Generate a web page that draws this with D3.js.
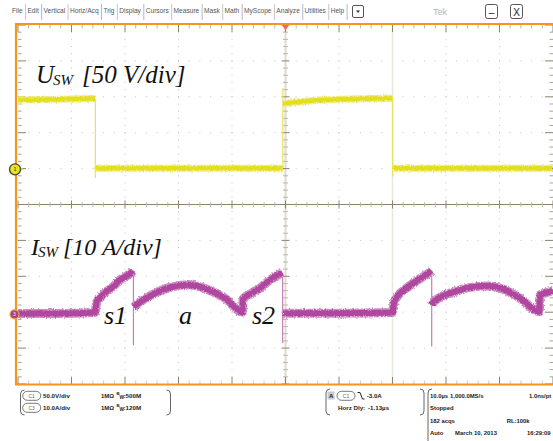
<!DOCTYPE html>
<html><head><meta charset="utf-8">
<script src="https://cdn.jsdelivr.net/npm/d3@7"></script>
<style>body{margin:0;background:#fff}svg{display:block}</style>
</head><body><svg id="c" width="553" height="441"></svg>
<script>
// ---------------- data ----------------
const menuItems = ["File","Edit","Vertical","Horiz/Acq","Trig","Display","Cursors","Measure","Mask","Math","MyScope","Analyze","Utilities","Help"];
const timeDomain = [0, 100];          // µs, 10 µs/div
const divCount = 10;
// U_SW (channel 1, 50 V/div) – segments of the thick trace
const uSeg  = [0, 0, 0, 0, 1, 1, 2, 2, 2, 2, 2, 2, 3, 3];
const uTime = [0, 5, 10, 14.42, 14.5, 49.45, 49.55, 52.7, 56.4, 60.2, 65.8, 70.0, 70.08, 100];
const uVolt = [96.5, 97.3, 98.0, 98.6, 1.5, 1.5, 91.4, 94.2, 96.5, 97.5, 98.6, 99.0, 1.5, 1.5];
// U_SW switching edges (thin)
const uEdgeTime = [14.46, 49.5, 70.04];
const uEdgeHigh = [98.6, 113, 99.0];
const uEdgeLow  = [-12, 1.5, -10];
// I_SW (channel 3, 10 A/div)
const iSeg  = [0,0,0,0,0,0,0,0,0,0, 1,1,1,1,1,1,1,1,1,1,1,1,1, 2,2,2,2,2,2,2,2,2, 3,3,3,3,3,3,3,3,3,3,3];
const iTime = [0, 7, 14.39, 14.71, 15.33, 16.58, 17.2, 19.07, 21.0, 21.5,
               21.65, 21.87, 24.67, 28.41, 31.78, 35.33, 38.69, 41.96, 42.06, 43.5, 45.23, 47.1, 49.4,
               49.55, 60, 69.99, 70.31, 70.93, 72.8, 74.8, 77.0, 77.28,
               77.4, 77.7, 81.4, 84.5, 87.6, 90.7, 93.8, 97.44, 97.55, 97.9, 100];
const iAmp  = [0.2, 0.2, 0.5, 3.4, 4.6, 6.4, 7.0, 9.6, 11.4, 12.1,
               2.0, 2.3, 5.1, 7.5, 8.2, 7.0, 4.5, 0.6, 4.3, 5.8, 7.3, 9.6, 11.6,
               0.3, 0.3, 0.5, 3.4, 5.0, 7.5, 9.6, 11.8, 12.2,
               2.5, 3.5, 6.2, 7.5, 7.9, 7.0, 4.5, 0.7, 5.4, 5.6, 6.5];
// I_SW turn-off spikes (thin)
const iSpikeTime = [21.58, 49.47, 77.33];
const iSpikeHigh = [12.2, 11.6, 12.2];
const iSpikeLow  = [-8.6, -8.0, -9.0];
// labels
const chInfo = [["C1","50.0V/div","1MΩ","500M"],["C3","10.0A/div","1MΩ","120M"]];
const trigInfo = ["-3.0A","Horz Dly:","-1.13µs"];
const acqInfo = [["10.0µs","1,000.0MS/s","1.0ns/pt"],["Stopped"],["182 acqs","RL:100k"],["Auto","March 10, 2013","16:29:09"]];

// ---------------- drawing ----------------
const svg = d3.select("#c");
const X0 = 18, X1 = 553, Y0 = 25, Y1 = 384;
const x = d3.scaleLinear().domain(timeDomain).range([X0, X1]);
const gy = d3.scaleLinear().domain([0, divCount]).range([Y0, Y1]);
const divH = (Y1 - Y0) / divCount;
const yU = d3.scaleLinear().domain([0, 50]).range([169.3, 169.3 - divH]);
const yI = d3.scaleLinear().domain([0, 10]).range([314.3, 314.3 - divH]);
const gridCol = "#8c846a", dotCol = "#c4c4c4";

const defs = svg.append("defs");
const f = defs.append("filter").attr("id","noise").attr("filterUnits","userSpaceOnUse")
  .attr("x",0).attr("y",0).attr("width",553).attr("height",441);
f.append("feTurbulence").attr("type","fractalNoise").attr("baseFrequency","1.1 0.5").attr("numOctaves",1).attr("seed",4).attr("result","t");
f.append("feDisplacementMap").attr("in","SourceGraphic").attr("in2","t").attr("scale",3.5)
  .attr("xChannelSelector","R").attr("yChannelSelector","G");

// menu bar
const menu = svg.append("g").attr("font-family","Liberation Sans, Arial, sans-serif").attr("font-size",6.6).attr("fill","#555");
let mx = 12;
const widths = [];
const tmp = menu.append("text");
menuItems.forEach(m => { tmp.text(m); widths.push(tmp.node().getComputedTextLength()); });
tmp.remove();
const totalW = d3.sum(widths);
const pad = (349 - 12 - totalW) / menuItems.length;
menuItems.forEach((m, i) => {
  menu.append("text").attr("x", mx).attr("y", 13).text(m);
  mx += widths[i] + pad;
  menu.append("line").attr("x1", mx - pad/2 + 0.5).attr("x2", mx - pad/2 + 0.5).attr("y1", 4).attr("y2", 20)
    .attr("stroke", i % 2 ? "#9aa6c8" : "#b8b8b8").attr("stroke-width", 0.8);
});
svg.append("rect").attr("x",352.5).attr("y",5.5).attr("width",11).attr("height",12).attr("rx",1.5).attr("fill","#fff").attr("stroke","#555");
svg.append("path").attr("d","M356,10.5 L360,10.5 L358,13 Z").attr("fill","#333");
svg.append("text").attr("x",433).attr("y",14.5).attr("font-family","Liberation Sans, Arial").attr("font-size",9).attr("fill","#b4b4b4").text("Tek");
[[485,"–"],[510,"X"]].forEach(([bx,t]) => {
  svg.append("rect").attr("x",bx+0.5).attr("y",4.5).attr("width",12).attr("height",14).attr("rx",2).attr("fill","#fff").attr("stroke","#555");
  svg.append("text").attr("x",bx+6.5).attr("y",15.5).attr("text-anchor","middle").attr("font-family","Liberation Sans, Arial").attr("font-size",10).attr("fill","#222").text(t);
});

// graticule
const grid = svg.append("g");
const minorX = d3.range(0, divCount * 5 + 1).map(j => X0 + j * (X1 - X0) / 50);
const minorY = d3.range(0, divCount * 5 + 1).map(j => gy(j / 5));
d3.range(1, divCount).forEach(k => {
  const xv = x(timeDomain[0] + k * 10);
  if (k !== 5) grid.selectAll(null).data(minorY).join("rect").attr("x", xv - 0.5).attr("y", d => d - 0.5).attr("width",1).attr("height",1).attr("fill",dotCol);
  const yv = gy(k);
  if (k !== 5) grid.selectAll(null).data(minorX).join("rect").attr("x", d => d - 0.5).attr("y", yv - 0.5).attr("width",1).attr("height",1).attr("fill",dotCol);
});
grid.append("line").attr("x1", x(50)).attr("x2", x(50)).attr("y1", Y0).attr("y2", Y1).attr("stroke","#dedbd2").attr("stroke-width",2);
grid.append("line").attr("x1", x(70)).attr("x2", x(70)).attr("y1", Y0).attr("y2", Y1).attr("stroke","#e9e7e0").attr("stroke-width",1.5);
grid.append("line").attr("x1", X0).attr("x2", X1).attr("y1", gy(5)).attr("y2", gy(5)).attr("stroke", gridCol).attr("stroke-width",1.2);
grid.selectAll(null).data(minorX).join("line").attr("x1", d => d).attr("x2", d => d)
  .attr("y1", (d,i) => gy(5) - (i % 5 ? 2.5 : 4)).attr("y2", (d,i) => gy(5) + (i % 5 ? 2.5 : 4)).attr("stroke", (d,i)=> i%5 ? "#bdb8a8" : gridCol);
grid.selectAll(null).data(minorY).join("line").attr("y1", d => d).attr("y2", d => d)
  .attr("x1", (d,i) => x(50) - (i % 5 ? 2.5 : 4)).attr("x2", (d,i) => x(50) + (i % 5 ? 2.5 : 4)).attr("stroke", (d,i)=> i%5 ? "#bdb8a8" : gridCol);
grid.selectAll(null).data(minorY).join("line").attr("y1", d => d).attr("y2", d => d)
  .attr("x1", X0).attr("x2", (d,i) => X0 + (i % 5 ? 3.5 : 8)).attr("stroke", (d,i)=> i%5 ? "#a9a392" : gridCol);
grid.selectAll(null).data(minorY).join("line").attr("y1", d => d).attr("y2", d => d)
  .attr("x1", X1).attr("x2", (d,i) => X1 - (i % 5 ? 3.5 : 8)).attr("stroke", (d,i)=> i%5 ? "#a9a392" : gridCol);
grid.selectAll(null).data(minorX).join("line").attr("x1", d => d).attr("x2", d => d)
  .attr("y1", Y0).attr("y2", (d,i) => Y0 + (i % 5 ? 3.5 : 7)).attr("stroke", (d,i)=> i%5 ? "#bdb8a8" : gridCol);
grid.selectAll(null).data(minorX).join("line").attr("x1", d => d).attr("x2", d => d)
  .attr("y1", Y1).attr("y2", (d,i) => Y1 - (i % 5 ? 3.5 : 7)).attr("stroke", (d,i)=> i%5 ? "#cfcabb" : gridCol);

// orange frame
svg.append("line").attr("x1",16).attr("x2",16).attr("y1",23).attr("y2",385).attr("stroke","#f5941f").attr("stroke-width",2.2);
svg.append("line").attr("x1",15).attr("x2",553).attr("y1",24).attr("y2",24).attr("stroke","#f5941f").attr("stroke-width",2.2);
svg.append("line").attr("x1",15).attr("x2",553).attr("y1",384.5).attr("y2",384.5).attr("stroke","#f5941f").attr("stroke-width",2.2);
svg.append("path").attr("d", `M${x(50)-3.5},25 L${x(50)+3.5},25 L${x(50)},30.5 Z`).attr("fill","#f0696a");

// traces
const traces = svg.append("g");
uEdgeTime.forEach((t, i) => traces.append("line").attr("x1", x(t)).attr("x2", x(t)).attr("y1", yU(uEdgeHigh[i])).attr("y2", yU(uEdgeLow[i]))
  .attr("stroke","#e6e25a").attr("stroke-width",1.2));
const uPts = uTime.map((t, i) => ({t, v: uVolt[i], s: uSeg[i]}));
const uLine = d3.line().x(d => x(d.t)).y(d => yU(d.v)).curve(d3.curveMonotoneX);
const uG = traces.append("g").attr("filter","url(#noise)");
d3.groups(uPts, d => d.s).forEach(([s, pts]) => {
  uG.append("path").attr("d", uLine(pts)).attr("fill","none").attr("stroke","#eeeb8a").attr("stroke-width",7);
  uG.append("path").attr("d", uLine(pts)).attr("fill","none").attr("stroke","#e4df1c").attr("stroke-width",4.5);
});
iSpikeTime.forEach((t, i) => traces.append("line").attr("x1", x(t)).attr("x2", x(t)).attr("y1", yI(iSpikeHigh[i])).attr("y2", yI(iSpikeLow[i]))
  .attr("stroke","#c77cbb").attr("stroke-width",1.2));
const iPts = iTime.map((t, i) => ({t, v: iAmp[i], s: iSeg[i]}));
const iLine = d3.line().x(d => x(d.t)).y(d => yI(d.v)).curve(d3.curveMonotoneX);
const iG = traces.append("g").attr("filter","url(#noise)");
d3.groups(iPts, d => d.s).forEach(([s, pts]) => {
  iG.append("path").attr("d", iLine(pts)).attr("fill","none").attr("stroke","#cf8ec5").attr("stroke-width",9);
  iG.append("path").attr("d", iLine(pts)).attr("fill","none").attr("stroke","#b0469e").attr("stroke-width",6);
});

// channel markers
const m1 = svg.append("g").attr("transform", `translate(15,${yU(0)})`);
m1.append("path").attr("d","M4,-2.2 L9,0 L4,2.2 Z").attr("fill","#e4df1c");
m1.append("circle").attr("r",5.5).attr("fill","#e8e31e").attr("stroke","#444").attr("stroke-width",1.3);
m1.append("text").attr("y",2).attr("text-anchor","middle").attr("font-size",5.5).attr("font-family","Liberation Sans").attr("fill","#333").text("1");
const m3 = svg.append("g").attr("transform", `translate(14.5,${yI(0)})`);
m3.append("circle").attr("r",4.5).attr("fill","#a4448f").attr("stroke","#f5a03c").attr("stroke-width",1.2);
m3.append("text").attr("y",2).attr("text-anchor","middle").attr("font-size",5).attr("font-family","Liberation Sans").attr("fill","#eee").text("3");

// annotations
const serif = "Liberation Serif, Times New Roman, serif";
const ann = svg.append("g").attr("font-family", serif).attr("font-style","italic").attr("fill","#111");
ann.append("text").attr("x",36).attr("y",83).attr("font-size",25).text("U");
ann.append("text").attr("x",53).attr("y",84.5).attr("font-size",15).text("SW");
ann.append("text").attr("x",82).attr("y",83).attr("font-size",25).text("[50 V/div]");
ann.append("text").attr("x",31).attr("y",255).attr("font-size",24).text("I");
ann.append("text").attr("x",38).attr("y",256.5).attr("font-size",15).text("SW");
ann.append("text").attr("x",63).attr("y",255).attr("font-size",24).text("[10 A/div]");
ann.append("text").attr("x",104).attr("y",323.5).attr("font-size",26).text("s1");
ann.append("text").attr("x",179).attr("y",323.5).attr("font-size",26).text("a");
ann.append("text").attr("x",252).attr("y",323.5).attr("font-size",26).text("s2");

// bottom info
const info = svg.append("g").attr("font-family","Liberation Sans, Arial, sans-serif").attr("font-size",6.2).attr("fill","#222").attr("font-weight","bold");
function bracket(x1, x2, y1, y2, g) {
  g.append("path").attr("d",`M${x1+4},${y1} Q${x1},${y1} ${x1},${y1+4} L${x1},${y2-4} Q${x1},${y2} ${x1+4},${y2}`).attr("fill","none").attr("stroke","#555").attr("stroke-width",0.9);
  if (x2 !== null) g.append("path").attr("d",`M${x2-4},${y1} Q${x2},${y1} ${x2},${y1+4} L${x2},${y2-4} Q${x2},${y2} ${x2-4},${y2}`).attr("fill","none").attr("stroke","#555").attr("stroke-width",0.9);
}
function oval(cx, cy, label) {
  info.append("rect").attr("x",cx-9).attr("y",cy-4.5).attr("width",18).attr("height",9).attr("rx",4.5).attr("fill","#fff").attr("stroke","#555").attr("stroke-width",0.8);
  info.append("text").attr("x",cx).attr("y",cy+2).attr("text-anchor","middle").attr("font-size",5).attr("font-weight","normal").attr("fill","#666").text(label);
}
bracket(20.5, 170.5, 390, 415, info);
chInfo.forEach((r, i) => {
  const yb = 398 + i * 12;
  oval(31.7, yb - 2.2, r[0]);
  info.append("text").attr("x",43).attr("y",yb).text(r[1]);
  info.append("text").attr("x",101).attr("y",yb).attr("font-size",6).text(r[2]);
  info.append("text").attr("x",116.5).attr("y",yb - 2.8).attr("font-size",4.3).text("B");
  info.append("text").attr("x",119.5).attr("y",yb + 0.8).attr("font-size",4.8).text("W");
  info.append("text").attr("x",123.5).attr("y",yb).text(":" + r[3]);
});
bracket(326, 424, 389, 415, info);
info.append("rect").attr("x",327.5).attr("y",391.5).attr("width",7).attr("height",8).attr("fill","#ccc");
info.append("text").attr("x",329).attr("y",398).attr("font-size",6).text("A");
oval(346, 395.8, "C1");
info.append("path").attr("d","M357.5,392.5 L360,392.5 L362.5,399 L364.5,399").attr("fill","none").attr("stroke","#222").attr("stroke-width",1);
info.append("text").attr("x",366.7).attr("y",398).text(trigInfo[0]);
info.append("text").attr("x",338).attr("y",410).text(trigInfo[1]);
info.append("text").attr("x",368).attr("y",410).text(trigInfo[2]);
bracket(428, null, 389, 448, info);
const acqX = [[430, 450, 529], [430], [430, 506.7], [430, 455, 527]];
acqInfo.forEach((row, r) => row.forEach((s, c) => info.append("text").attr("x", acqX[r][c]).attr("y", 398 + r * 12.3)
  .attr("font-size", 5.9).text(s)));
</script></body></html>
